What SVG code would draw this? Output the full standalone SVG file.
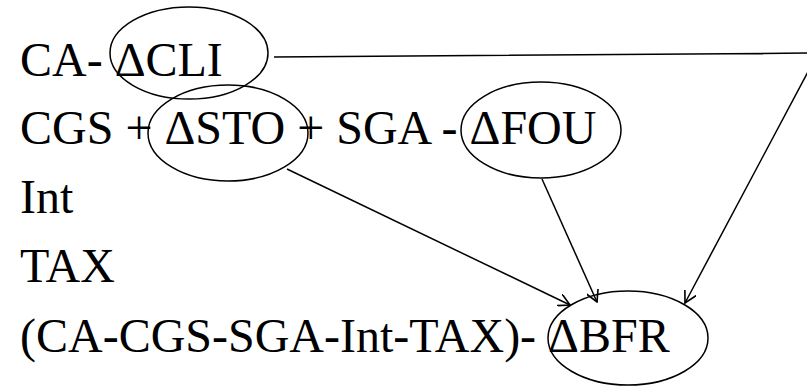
<svg xmlns="http://www.w3.org/2000/svg" width="807" height="387" viewBox="0 0 807 387">
<style>
.t { font-family: "Liberation Serif", "Times New Roman", serif; font-size: 48px; fill: #000; }
.ell { fill: none; stroke: #000; stroke-width: 1.5; }
.conn { fill: none; stroke: #000; stroke-width: 1.5; }
</style>
<defs>
<marker id="arr" viewBox="0 0 12 12" refX="11" refY="6" markerWidth="13" markerHeight="13" markerUnits="userSpaceOnUse" orient="auto">
<path d="M0,0 L11,6 L0,12" fill="none" stroke="#000" stroke-width="1.5"/>
</marker>
</defs>
<g id="text-lines">
<text class="t" x="20" y="76">CA- ΔCLI</text>
<text class="t" x="20" y="144">CGS + ΔSTO + SGA - ΔFOU</text>
<text class="t" x="20" y="213">Int</text>
<text class="t" x="20" y="282">TAX</text>
<text class="t" x="20" y="352">(CA-CGS-SGA-Int-TAX)- ΔBFR</text>
</g>
<g id="node-CLI"><ellipse class="ell" cx="189" cy="53" rx="79" ry="46"/></g>
<g id="node-STO"><ellipse class="ell" cx="228" cy="133" rx="80" ry="48"/></g>
<g id="node-FOU"><ellipse class="ell" cx="541" cy="130" rx="80" ry="48"/></g>
<g id="node-BFR"><ellipse class="ell" cx="628" cy="338" rx="80" ry="47"/></g>
<g id="connectors">
<polyline class="conn" points="274,57 818,53 685,303" marker-end="url(#arr)"/>
<line class="conn" x1="287" y1="169" x2="570" y2="305" marker-end="url(#arr)"/>
<line class="conn" x1="542" y1="179" x2="597" y2="302" marker-end="url(#arr)"/>
</g>
</svg>
